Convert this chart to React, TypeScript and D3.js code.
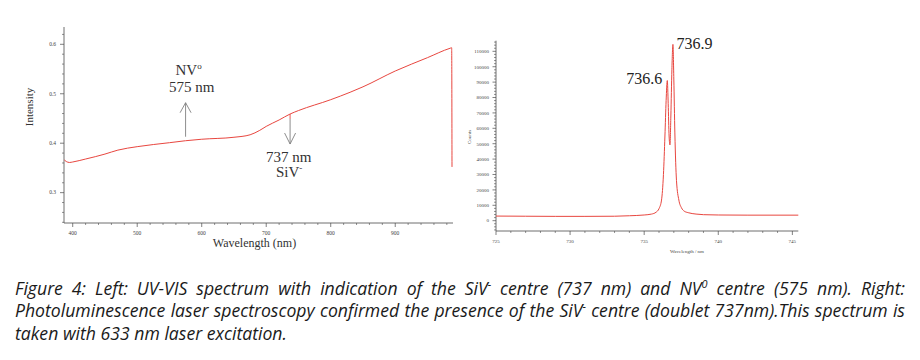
import React, { useEffect, useRef } from "react";
import * as d3 from "d3";

// ---------- data ----------
const uvWavelength = [387, 390, 395, 400, 420, 450, 470, 500, 550, 575, 600, 650, 675, 690, 700, 720, 737, 750, 800, 830, 850, 900, 950, 985, 987.5, 988];
const uvIntensity = [0.366, 0.363, 0.361, 0.362, 0.368, 0.378, 0.386, 0.393, 0.401, 0.405, 0.408, 0.412, 0.417, 0.426, 0.434, 0.447, 0.459, 0.466, 0.488, 0.503, 0.514, 0.546, 0.573, 0.592, 0.593, 0.352];

const plWavelength = [725, 727, 729, 731, 733, 734, 735, 735.5, 735.8, 736.0, 736.17, 736.3, 736.4, 736.48, 736.56, 736.62, 736.68, 736.74, 736.8, 736.87, 736.94, 737.0, 737.07, 737.18, 737.34, 737.52, 737.7, 737.97, 738.5, 739, 740, 742, 745.4];
const plCounts = [3000, 2900, 2800, 2800, 2900, 3200, 3700, 4300, 5500, 7800, 13400, 30000, 55000, 78000, 91000, 76000, 55000, 49200, 68000, 98000, 114500, 92000, 57000, 26000, 13400, 8300, 6200, 5200, 4300, 3900, 3700, 3600, 3600];

const uvXTicks = [400, 500, 600, 700, 800, 900];
const uvYTicks = [0.3, 0.4, 0.5, 0.6];
const plXTicks = [725, 730, 735, 740, 745];
const plYTicks = [0, 10000, 20000, 30000, 40000, 50000, 60000, 70000, 80000, 90000, 100000, 110000];

const peakWavelengths = [736.56, 736.94];
const peakCounts = [91000, 114500];
const peakLabels = ["736.6", "736.9"];

const uvMarkWavelengths = [575, 737];
const uvMarkLabels = [["NV^{o}", "575 nm"], ["737 nm", "SiV^{-}"]];

const captionLines = [
  "Figure 4: Left: UV-VIS spectrum with indication of the SiV^{-} centre (737 nm) and NV^{0} centre (575 nm). Right:",
  "Photoluminescence laser spectroscopy confirmed the presence of the SiV^{-} centre (doublet 737nm).This spectrum is",
  "taken with 633 nm laser excitation.",
];

// ---------- helpers ----------
const serif = "'Liberation Serif', 'DejaVu Serif', serif";
const RED = "#e8463f";
const AX = "#4a4a4a";

function segs(s: string) {
  const out: { t: string; sup: boolean }[] = [];
  const re = /\^\{(.*?)\}/g;
  let last = 0;
  let m;
  while ((m = re.exec(s))) {
    if (m.index > last) out.push({ t: s.slice(last, m.index), sup: false });
    out.push({ t: m[1], sup: true });
    last = m.index + m[0].length;
  }
  if (last < s.length) out.push({ t: s.slice(last), sup: false });
  return out;
}

function RichText({ s, x, y, size, anchor }: { s: string; x: number; y: number; size: number; anchor: string }) {
  return (
    <text x={x} y={y} fontSize={size} fontFamily={serif} fill="#333" textAnchor={anchor}>
      {segs(s).map((g, i) =>
        g.sup ? (
          <tspan key={i} fontSize={size * 0.6} dy={-size * 0.38}>{g.t}</tspan>
        ) : (
          <tspan key={i}>{g.t}</tspan>
        )
      )}
    </text>
  );
}

export default function App() {
  const capRef = useRef<SVGGElement>(null);

  // ---- left chart scales ----
  const uvX = d3.scaleLinear().domain([386.5, 988]).range([64, 452]);
  const uvY = d3.scaleLinear().domain([0.2386, 0.635]).range([223, 27]);
  const uvLine = d3
    .line<number>()
    .x((_, i) => uvX(uvWavelength[i]))
    .y((d) => uvY(d))
    .curve(d3.curveMonotoneX);
  const uvXMinor = d3.range(380, 990, 20).filter((v) => v >= 386.5 && v <= 988 && v % 100 !== 0);
  const uvYMinor = d3.range(0.24, 0.635, 0.02).filter((v) => Math.abs(v * 10 - Math.round(v * 10)) > 0.01);

  // ---- right chart scales ----
  const plX = d3.scaleLinear().domain([725, 745.4]).range([496, 798.3]);
  const plY = d3.scaleLinear().domain([-6700, 116900]).range([231, 40.7]);
  const plLine = d3
    .line<number>()
    .x((_, i) => plX(plWavelength[i]))
    .y((d) => plY(d))
    .curve(d3.curveMonotoneX);
  const plXMinor = d3.range(725, 746, 1).filter((v) => v % 5 !== 0);
  const plYMinor = d3.range(-6000, 117000, 2000).filter((v) => v % 10000 !== 0);

  useEffect(() => {
    const root = d3.select(capRef.current);
    root.selectAll("*").remove();
    const g = root.append("g");
    const fs = 17.5;
    const lines = captionLines.map((line) =>
      line.split(" ").map((word) => {
        const t = g
          .append("text")
          .attr("font-family", "'Open Sans', 'Noto Sans', sans-serif")
          .attr("font-style", "italic")
          .attr("font-size", fs)
          .attr("fill", "#1a1a1a");
        let shifted = false;
        segs(word).forEach((sg) => {
          const ts = t.append("tspan").text(sg.t);
          if (sg.sup) {
            ts.attr("font-size", fs * 0.62).attr("dy", -fs * 0.42);
            shifted = true;
          } else if (shifted) {
            ts.attr("dy", fs * 0.42);
            shifted = false;
          }
        });
        return { t, w: (t.node() as SVGTextElement).getComputedTextLength() };
      })
    );
    const space = fs * 0.26;
    const last = lines[lines.length - 1];
    const natural3 = d3.sum(last, (d) => d.w) + space * (last.length - 1);
    const sx = 272 / natural3;
    const full = 890 / sx;
    const baselines = [295, 317.5, 340];
    lines.forEach((words, li) => {
      const total = d3.sum(words, (d) => d.w);
      const gap = li < lines.length - 1 ? (full - total) / (words.length - 1) : space;
      let x = 0;
      words.forEach((wd) => {
        wd.t.attr("x", x).attr("y", baselines[li]);
        x += wd.w + gap;
      });
    });
    g.attr("transform", `translate(15,0) scale(${sx},1)`);
  }, []);

  return (
    <svg width={920} height={360} style={{ position: "absolute", left: 0, top: 0, background: "#fff" }}>
      <rect width={920} height={360} fill="#fff" />

      {/* ================= LEFT CHART ================= */}
      <g>
        <line x1={64} x2={64} y1={27} y2={223} stroke={AX} strokeWidth={0.8} />
        <line x1={64} x2={453} y1={223} y2={223} stroke={AX} strokeWidth={0.8} />
        {uvYTicks.map((v) => (
          <g key={v}>
            <line x1={60} x2={64} y1={uvY(v)} y2={uvY(v)} stroke={AX} strokeWidth={0.7} />
            <text x={56} y={uvY(v) + 1.8} fontSize={5.5} fontFamily={serif} textAnchor="end" fill="#444">{v.toFixed(1)}</text>
          </g>
        ))}
        {uvYMinor.map((v) => (
          <line key={v} x1={62} x2={64} y1={uvY(v)} y2={uvY(v)} stroke={AX} strokeWidth={0.6} />
        ))}
        {uvXTicks.map((v) => (
          <g key={v}>
            <line x1={uvX(v)} x2={uvX(v)} y1={223} y2={227} stroke={AX} strokeWidth={0.7} />
            <text x={uvX(v)} y={235} fontSize={5.5} fontFamily={serif} textAnchor="middle" fill="#444">{v}</text>
          </g>
        ))}
        {uvXMinor.map((v) => (
          <line key={v} x1={uvX(v)} x2={uvX(v)} y1={223} y2={225} stroke={AX} strokeWidth={0.6} />
        ))}
        <text x={254.5} y={246.5} fontSize={12} fontFamily={serif} textAnchor="middle" fill="#333">Wavelength (nm)</text>
        <text transform={`translate(33,107) rotate(-90)`} fontSize={11} fontFamily={serif} textAnchor="middle" fill="#333">Intensity</text>

        <path d={uvLine(uvIntensity) || ""} fill="none" stroke={RED} strokeWidth={1} />

        {/* annotations */}
        {(() => {
          const xa = uvX(uvMarkWavelengths[0]);
          const tail = uvY(0.405) - 4;
          const tip = tail - 34;
          return (
            <g>
              <line x1={xa} x2={xa} y1={tail} y2={tip} stroke="#808080" strokeWidth={0.9} />
              <polyline points={`${xa - 5.5},${tip + 10} ${xa},${tip} ${xa + 5.5},${tip + 10}`} fill="none" stroke="#808080" strokeWidth={0.9} />
              <RichText s={uvMarkLabels[0][0]} x={xa + 3} y={75} size={15} anchor="middle" />
              <RichText s={uvMarkLabels[0][1]} x={xa + 6} y={91.7} size={15} anchor="middle" />
            </g>
          );
        })()}
        {(() => {
          const xa = uvX(uvMarkWavelengths[1]);
          const tail = uvY(0.459);
          const tip = tail + 30;
          return (
            <g>
              <line x1={xa} x2={xa} y1={tail} y2={tail + 5} stroke={RED} strokeWidth={0.9} />
              <line x1={xa} x2={xa} y1={tail + 5} y2={tip} stroke="#808080" strokeWidth={0.9} />
              <polyline points={`${xa - 5.5},${tip - 11} ${xa},${tip} ${xa + 5.5},${tip - 11}`} fill="none" stroke="#808080" strokeWidth={0.9} />
              <RichText s={uvMarkLabels[1][0]} x={xa - 1.5} y={161.7} size={15} anchor="middle" />
              <RichText s={uvMarkLabels[1][1]} x={xa - 1} y={176.7} size={15} anchor="middle" />
            </g>
          );
        })()}
      </g>

      {/* ================= RIGHT CHART ================= */}
      <g>
        <line x1={496} x2={496} y1={40.7} y2={231} stroke={AX} strokeWidth={0.8} />
        <line x1={496} x2={798.3} y1={231} y2={231} stroke={AX} strokeWidth={0.8} />
        {plYTicks.map((v) => (
          <g key={v}>
            <line x1={492.5} x2={496} y1={plY(v)} y2={plY(v)} stroke={AX} strokeWidth={0.7} />
            <text x={489} y={plY(v) + 1.8} fontSize={5} fontFamily={serif} textAnchor="end" fill="#444">{v}</text>
          </g>
        ))}
        {plYMinor.map((v) => (
          <line key={v} x1={494} x2={496} y1={plY(v)} y2={plY(v)} stroke={AX} strokeWidth={0.6} />
        ))}
        {plXTicks.map((v) => (
          <g key={v}>
            <line x1={plX(v)} x2={plX(v)} y1={231} y2={235} stroke={AX} strokeWidth={0.7} />
            <text x={plX(v)} y={242.5} fontSize={5} fontFamily={serif} textAnchor="middle" fill="#444">{v}</text>
          </g>
        ))}
        {plXMinor.map((v) => (
          <line key={v} x1={plX(v)} x2={plX(v)} y1={231} y2={233} stroke={AX} strokeWidth={0.6} />
        ))}
        <text x={687} y={252.5} fontSize={5} fontFamily={serif} textAnchor="middle" fill="#444">Wavelength / nm</text>
        <text transform={`translate(471,137) rotate(-90)`} fontSize={5} fontFamily={serif} textAnchor="middle" fill="#444">Counts</text>

        <path d={plLine(plCounts) || ""} fill="none" stroke={RED} strokeWidth={1} />

        <text x={plX(peakWavelengths[0]) - 5} y={plY(peakCounts[0]) + 3} fontSize={16} fontFamily={serif} textAnchor="end" fill="#222">{peakLabels[0]}</text>
        <text x={plX(peakWavelengths[1]) + 3.5} y={plY(peakCounts[1]) + 5} fontSize={16} fontFamily={serif} textAnchor="start" fill="#222">{peakLabels[1]}</text>
      </g>

      {/* ================= CAPTION ================= */}
      <g ref={capRef} />
    </svg>
  );
}
